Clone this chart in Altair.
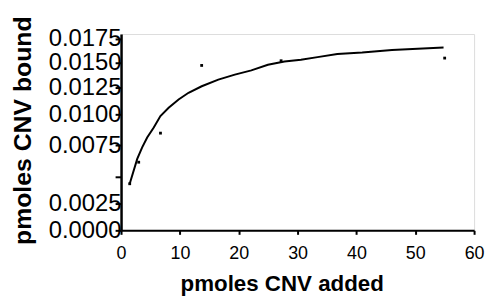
import altair as alt
import pandas as pd

# fitted curve
curve_x = [1.47, 2.75, 3.59, 4.44, 5.56, 6.69, 8.09, 9.78, 11.47, 13.71, 16.53, 19.34,
           22.14, 24.96, 27.77, 30.57, 33.39, 36.76, 40.98, 46.04, 54.81]
curve_y = [0.00435, 0.00641, 0.00732, 0.00812, 0.00893, 0.00986, 0.01062, 0.01139, 0.01201,
           0.01263, 0.0133, 0.0138, 0.01423, 0.0148, 0.01514, 0.01531, 0.01559, 0.01591,
           0.01607, 0.01635, 0.01659]

# measured points
pts_x = [1.47, 3.0, 6.7, 13.7, 27.2, 55.0]
pts_y = [0.00435, 0.00615, 0.00847, 0.01473, 0.01521, 0.01549]

y_ticks = [0.0, 0.0025, 0.005, 0.0075, 0.01, 0.0125, 0.015, 0.0175]
x_ticks = [0, 10, 20, 30, 40, 50, 60]

curve = pd.DataFrame({"x": curve_x, "y": curve_y})
pts = pd.DataFrame({"x": pts_x, "y": pts_y})

yscale = alt.Scale(domain=[0.0, 0.0025, 0.005, 0.0075, 0.01, 0.0125, 0.015, 0.0175, 0.0178],
                   range=[198, 171, 144, 112, 81, 54, 29, 5, 0], zero=False, nice=False)
xscale = alt.Scale(domain=[0, 60], nice=False, zero=False)

xaxis = alt.Axis(values=x_ticks, tickCount=20, title="pmoles CNV added", grid=False,
                 domainColor="black", domainWidth=2, tickColor="black", tickSize=4,
                 tickWidth=2, labelFont="Liberation Sans", labelFontSize=18,
                 labelColor="black", labelPadding=10, labelOverlap=False,
                 titleFont="Liberation Sans", titleFontSize=22.5, titleFontWeight="bold",
                 titleColor="black", titleX=162, titlePadding=11, labelFlush=False)
yaxis = alt.Axis(values=y_ticks, tickCount=20, title="pmoles CNV bound", grid=False,
                 domainColor="black", domainWidth=2.5, tickColor="black", tickSize=6,
                 tickWidth=2,
                 labelExpr="datum.value == 0.005 ? '' : format(datum.value, '.4f')",
                 labelFont="Liberation Sans", labelFontSize=24, labelColor="black",
                 labelPadding=-6, labelBaseline="middle", labelOverlap=False,
                 titleFont="Liberation Sans", titleFontSize=25, titleFontWeight="bold",
                 titleColor="black", titleY=97, titlePadding=13, labelFlush=False)

line = alt.Chart(curve).mark_line(color="black", strokeWidth=2).encode(
    x=alt.X("x:Q", scale=xscale, axis=xaxis),
    y=alt.Y("y:Q", scale=yscale, axis=yaxis),
)
dots = alt.Chart(pts).mark_square(color="black", size=8, opacity=1).encode(
    x=alt.X("x:Q", scale=xscale),
    y=alt.Y("y:Q", scale=yscale),
)

chart = (line + dots).properties(
    width=356, height=198,
    padding={"left": 2, "top": 6, "right": 0, "bottom": 0},
).configure_view(stroke=None).configure(background="white")

chart.save("out.html", embed_options={"renderer": "svg", "actions": False})
